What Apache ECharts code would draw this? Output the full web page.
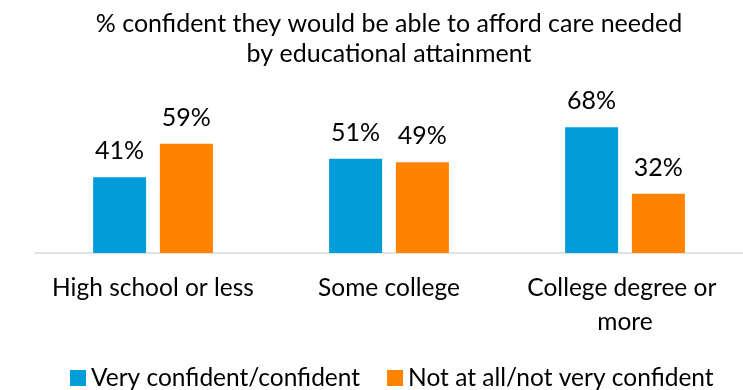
<!DOCTYPE html>
<html>
<head>
<meta charset="utf-8">
<style>
  html, body { margin: 0; padding: 0; background: #ffffff; }
  #chart { width: 743px; height: 390px; }
</style>
<script src="https://cdn.jsdelivr.net/npm/echarts@6/dist/echarts.min.js"></script>
</head>
<body>
<div id="chart"></div>
<script>
// Survey results: confidence in affording needed care, split by education level
const categories = ['High school or less', 'Some college', 'College degree or more'];
const confidentValues = [41, 51, 68];
const notConfidentValues = [59, 49, 32];
const seriesNames = ['Very confident/confident', 'Not at all/not very confident'];
const titleLines = ['% confident they would be able to afford care needed', 'by educational attainment'];

const FONT = 'Lato, "Open Sans", sans-serif';
const TEXT_COLOR = '#000000';
const BLUE = '#009DD9';
const ORANGE = '#FF8200';

const chart = echarts.init(document.getElementById('chart'), null, { renderer: 'canvas' });

const valueLabel = {
  show: true,
  position: 'top',
  distance: 13,
  formatter: p => p.value + '%',
  color: TEXT_COLOR,
  fontFamily: FONT,
  fontSize: 25,
  lineHeight: 26
};

chart.setOption({
  animation: false,
  backgroundColor: '#ffffff',
  title: {
    text: titleLines.join('\n'),
    left: 389,
    top: 9,
    textAlign: 'center',
    padding: 0,
    textStyle: {
      color: TEXT_COLOR,
      fontFamily: FONT,
      fontWeight: 'normal',
      fontSize: 25,
      lineHeight: 30
    }
  },
  legend: {
    data: seriesNames,
    left: 70,
    top: 363,
    padding: 0,
    icon: 'rect',
    itemWidth: 16,
    itemHeight: 16,
    itemGap: 27,
    textStyle: {
      color: TEXT_COLOR,
      fontFamily: FONT,
      fontSize: 24.5,
      lineHeight: 30
    }
  },
  grid: {
    left: 35,
    right: 0,
    top: 68,
    bottom: 137,
    containLabel: false
  },
  xAxis: {
    type: 'category',
    data: categories,
    axisLine: { show: true, lineStyle: { color: '#D9D9D9', width: 1.5 } },
    axisTick: { show: false },
    axisLabel: {
      interval: 0,
      margin: 18,
      color: TEXT_COLOR,
      fontFamily: FONT,
      fontSize: 24.5,
      lineHeight: 34,
      width: 215,
      overflow: 'break'
    }
  },
  yAxis: {
    type: 'value',
    min: 0,
    max: 100,
    show: false,
    splitLine: { show: false }
  },
  series: [
    {
      name: seriesNames[0],
      type: 'bar',
      data: confidentValues,
      barWidth: 53,
      barGap: '26%',
      itemStyle: { color: BLUE },
      label: valueLabel
    },
    {
      name: seriesNames[1],
      type: 'bar',
      data: notConfidentValues,
      barWidth: 53,
      barGap: '26%',
      itemStyle: { color: ORANGE },
      label: valueLabel
    }
  ]
});
</script>
</body>
</html>
